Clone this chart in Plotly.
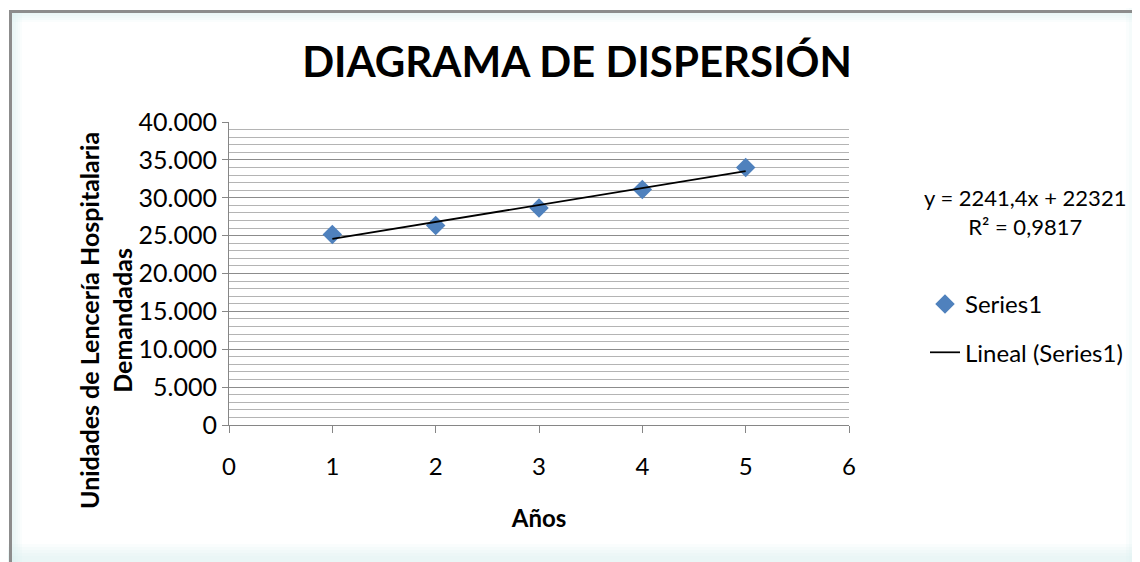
import numpy as np
import plotly.graph_objects as go

# ---- data ----
years = [1, 2, 3, 4, 5]
units = [25150, 26350, 28650, 31100, 33980]
trend_slope = 2241.4
trend_intercept = 22321
r_squared = 0.9817
x_ticks = [0, 1, 2, 3, 4, 5, 6]
y_ticks = [0, 5000, 10000, 15000, 20000, 25000, 30000, 35000, 40000]

# page body has an 8px margin; work in window coordinates and convert
OFF = 8
W, H = 1140 - OFF, 562 - OFF
X0, X1, Y0, Y1 = 229, 849, 122, 425          # plot area in window pixels
L, R, T, B = X0 - OFF, W - (X1 - OFF), Y0 - OFF, H - (Y1 - OFF)
PW, PH = W - L - R, H - T - B

def px(xw):
    return (xw - OFF - L) / PW

def py(yw):
    return (H - B - (yw - OFF)) / PH

FONT = "Lato"

trend_x = np.array([min(years), max(years)], dtype=float)
trend_y = trend_slope * trend_x + trend_intercept

fig = go.Figure()
fig.add_trace(go.Scatter(
    x=years, y=units, mode="markers", name="Series1",
    marker=dict(symbol="diamond", size=15, color="#4F81BD"),
    legendgroup="a",
))
fig.add_trace(go.Scatter(
    x=trend_x, y=trend_y, mode="lines", name="Lineal (Series1)",
    line=dict(color="black", width=1.75),
    legendgroup="b",
))

shapes = []
glow = "rgba(210,235,242,0.12)"
for i in range(5):
    shapes.append(dict(type="rect", xref="paper", yref="paper",
                       x0=px(1140 - 14 + i * 3), x1=px(1150), y0=py(580), y1=py(0),
                       line=dict(width=0), fillcolor=glow, layer="below"))
    shapes.append(dict(type="rect", xref="paper", yref="paper",
                       x0=px(0), x1=px(1150), y0=py(580), y1=py(562 - 18 + i * 3),
                       line=dict(width=0), fillcolor=glow, layer="below"))
    shapes.append(dict(type="rect", xref="paper", yref="paper",
                       x0=px(10), x1=px(1150), y0=py(12 + 2 + i * 2), y1=py(12),
                       line=dict(width=0), fillcolor=glow, layer="below"))
    shapes.append(dict(type="rect", xref="paper", yref="paper",
                       x0=px(12), x1=px(14 + i * 2), y0=py(580), y1=py(12),
                       line=dict(width=0), fillcolor=glow, layer="below"))
# outer gray border (left and top visible)
shapes.append(dict(type="rect", xref="paper", yref="paper",
                   x0=px(10.5), x1=px(1170), y0=py(600), y1=py(11.5),
                   line=dict(color="#8c8c8c", width=3), fillcolor="rgba(0,0,0,0)"))

fig.update_layout(
    width=W, height=H,
    margin=dict(l=L, r=R, t=T, b=B, autoexpand=False),
    paper_bgcolor="white", plot_bgcolor="white",
    separators=",.",
    font=dict(family=FONT, size=24, color="black"),
    title=dict(text="<b>DIAGRAMA DE DISPERSIÓN</b>", xref="paper", x=px(577),
               xanchor="center", yref="container", y=1 - (62 - OFF) / H,
               yanchor="middle", font=dict(size=42, family=FONT)),
    xaxis=dict(range=[0, 6], tickvals=x_ticks, showgrid=False, zeroline=False,
               showline=True, linecolor="#868686", linewidth=1,
               ticks="outside", ticklen=7, tickcolor="#868686",
               ticklabelstandoff=13, tickfont=dict(size=24),
               title=dict(text="<b>Años</b>", font=dict(size=24), standoff=31)),
    yaxis=dict(range=[0, 40000], tickvals=y_ticks, tickformat=",d",
               showgrid=True, gridcolor="#8c8c8c", gridwidth=1,
               minor=dict(dtick=1000, showgrid=True, gridcolor="#b4b4b4", gridwidth=1),
               zeroline=False, showline=True, linecolor="#868686", linewidth=1,
               ticks="outside", ticklen=6, tickcolor="#868686",
               tickfont=dict(size=25)),
    legend=dict(x=px(925), xanchor="left", y=py(282), yanchor="top",
                traceorder="grouped", tracegroupgap=14,
                font=dict(size=24), bgcolor="rgba(0,0,0,0)"),
    shapes=shapes,
    annotations=[
        dict(text="<b>Unidades de Lencería Hospitalaria<br>Demandadas</b>",
             xref="paper", yref="paper", x=px(105), y=py(321),
             xanchor="center", yanchor="middle", textangle=-90, showarrow=False,
             font=dict(size=25), align="center"),
        dict(text=f"y = {str(trend_slope).replace('.', ',')}x + {trend_intercept}<br>"
                  f"R² = {str(r_squared).replace('.', ',')}",
             xref="paper", yref="paper", x=px(1025), y=py(212),
             xanchor="center", yanchor="middle", showarrow=False,
             font=dict(size=22), align="center"),
    ],
)

fig.write_html("out.html")
